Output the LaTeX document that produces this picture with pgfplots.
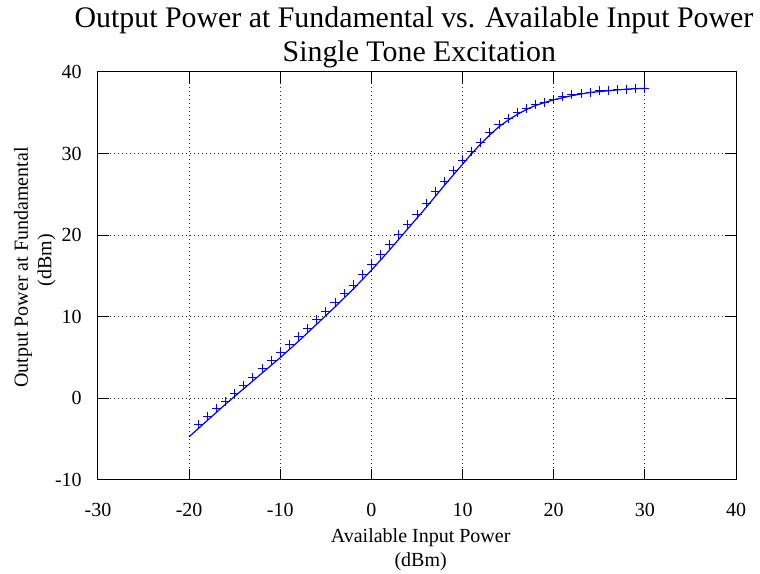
\documentclass[border=0pt]{standalone}
\usepackage{pgfplots}
\pgfplotsset{compat=1.18}
\usepackage{fontspec}
\setmainfont{Liberation Serif}
\begin{document}
\begin{tikzpicture}
\begin{axis}[
  at={(0,0)}, anchor=south west,
  scale only axis,
  width=478.5pt, height=306pt,
  xmin=-30, xmax=40, ymin=-10, ymax=40,
  xtick={-30,-20,...,40}, ytick={-10,0,...,40},
  grid=major,
  major grid style={black!85, dash pattern=on 0.8pt off 2.2pt, line width=0.75pt},
  axis line style={black, line width=0.75pt},
  tick style={black, line width=0.75pt},
  tick align=inside,
  major tick length=8pt,
  /pgf/number format/assume math mode=true,
  ticklabel style={font=\fontsize{15}{18}\selectfont, inner sep=0pt},
  xticklabel style={anchor=north, yshift=-17.25pt},
  yticklabel style={anchor=east, xshift=-12pt},
]
\addplot[blue, line width=0.9pt, no marks] coordinates {
(-20,-4.7) (-18,-2.7) (-16,-0.7) (-14,1.2) (-12,3.1) (-10,5.0) (-8,7.0) (-6,9.1)
(-4,11.2) (-2,13.4) (0,15.7) (2,18.2) (4,20.8) (6,23.4) (8,26.1) (10,28.7)
(11,30.0) (12,31.2) (13,32.3) (14,33.3) (15,34.1) (16,34.8) (17,35.4) (18,35.9)
(20,36.6) (22,37.1) (24,37.5) (26,37.7) (28,37.9) (30,38.0)
};
\addplot[blue, only marks, mark=+, mark size=3.4pt, mark options={line width=0.7pt}] coordinates {
(-19,-3.2) (-18,-2.2) (-17,-1.2) (-16,-0.4) (-15,0.6) (-14,1.6) (-13,2.6) (-12,3.7)
(-11,4.7) (-10,5.6) (-9,6.6) (-8,7.6) (-7,8.6) (-6,9.7) (-5,10.7) (-4,11.7)
(-3,12.8) (-2,13.9) (-1,15.2) (0,16.4) (1,17.6) (2,18.9) (3,20.1) (4,21.3)
(5,22.5) (6,23.9) (7,25.3) (8,26.6) (9,27.9) (10,29.1) (11,30.3) (12,31.4)
(13,32.6) (14,33.6) (15,34.3) (16,35.0) (17,35.5) (18,36.0) (19,36.3) (20,36.6)
(21,37.0) (22,37.2) (23,37.4) (24,37.5) (25,37.7) (26,37.7) (27,37.8) (28,37.9)
(29,38.0) (30,38.0)
};
\end{axis}
% titles and labels
\node[anchor=base, inner sep=0pt, font=\fontsize{22.4}{26}\selectfont] at (237pt,339pt) {Output Power at Fundamental vs. Available Input Power};
\node[anchor=base, inner sep=0pt, font=\fontsize{22.4}{26}\selectfont] at (241pt,313.5pt) {Single Tone Excitation};
\node[anchor=base, inner sep=0pt, font=\fontsize{15}{18}\selectfont] at (242pt,-47.25pt) {Available Input Power};
\node[anchor=base, inner sep=0pt, font=\fontsize{15}{18}\selectfont] at (242pt,-65.25pt) {(dBm)};
\node[anchor=base, rotate=90, inner sep=0pt, font=\fontsize{15}{18}\selectfont] at (-52.5pt,159.4pt) {Output Power at Fundamental};
\node[anchor=base, rotate=90, inner sep=0pt, font=\fontsize{15}{18}\selectfont] at (-35pt,165pt) {(dBm)};
\pgfresetboundingbox
\path[use as bounding box] (-73.5pt,-70.5pt) rectangle (496.5pt,360pt);
\end{tikzpicture}
\end{document}
